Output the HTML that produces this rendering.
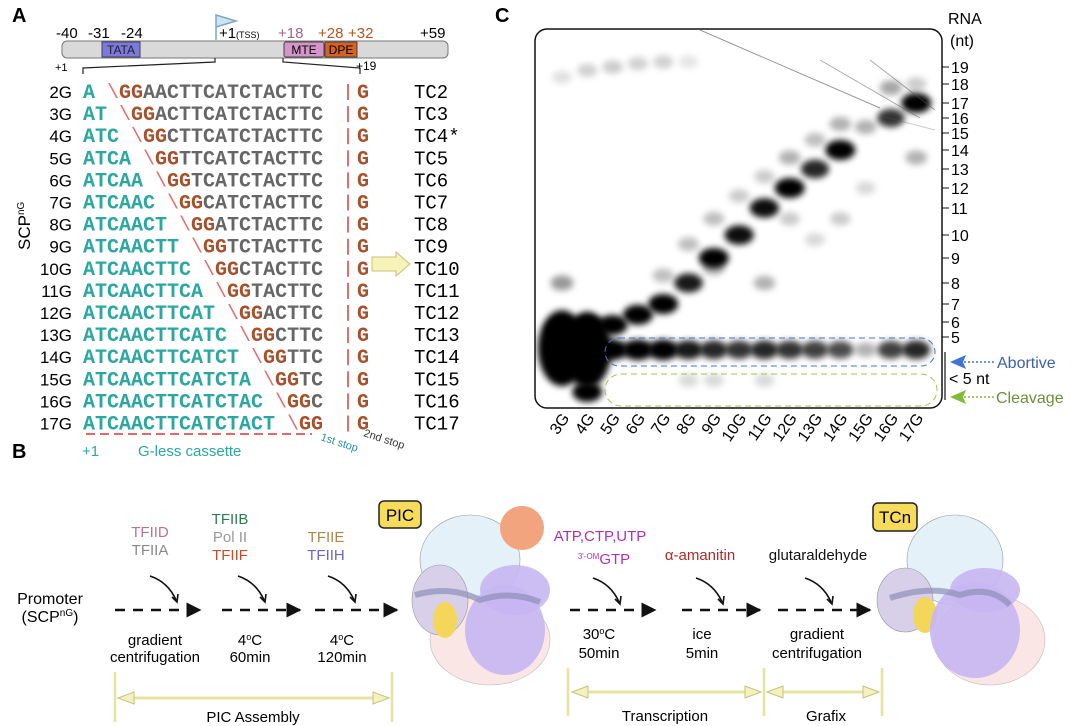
<!DOCTYPE html>
<html><head><meta charset="utf-8">
<style>
body{margin:0;background:#fff;}
svg{display:block;font-family:"Liberation Sans",sans-serif;}
</style></head>
<body>
<svg id="fig" width="1080" height="726" viewBox="0 0 1080 726">
<defs>
<filter id="blur" x="-50%" y="-50%" width="200%" height="200%"><feGaussianBlur stdDeviation="3.2"/></filter>
<marker id="ah" viewBox="0 0 10 10" refX="9" refY="5" markerWidth="6" markerHeight="6" orient="auto"><path d="M0,0 L10,5 L0,10 z" fill="#111"/></marker>
</defs>

<!-- PANEL A -->
<g>
<text x="12" y="22" font-size="20" font-weight="bold">A</text>
<g font-size="15">
<text x="56" y="38">-40</text><text x="88" y="38">-31</text><text x="121" y="38">-24</text>
<text x="219" y="38">+1</text><text x="236" y="38" font-size="9">(TSS)</text>
<text x="278" y="38" fill="#a0628a">+18</text><text x="318" y="38" fill="#b5541f">+28</text><text x="348" y="38" fill="#b5541f">+32</text>
<text x="420" y="38">+59</text>
</g>
<path d="M216,40 L216,15 L236,21 L216,27" fill="#cfe3f2" stroke="#7aa8c8" stroke-width="1.5"/>
<rect x="62" y="41" width="386" height="17" rx="5" fill="#d9d9d9" stroke="#777"/>
<rect x="102" y="42" width="38" height="15" fill="#7b78e0" stroke="#444"/>
<text x="121" y="54" font-size="12" text-anchor="middle" fill="#222">TATA</text>
<rect x="284" y="42" width="40" height="15" rx="2" fill="#d496c8" stroke="#444"/>
<text x="304" y="54" font-size="12" text-anchor="middle">MTE</text>
<rect x="325" y="42" width="32" height="15" fill="#d8621f" stroke="#444"/>
<text x="341" y="54" font-size="12" text-anchor="middle">DPE</text>
<text x="55" y="71" font-size="11">+1</text><text x="356" y="70" font-size="12">+19</text>
<path d="M215,58 L215,62 L83,68 L83,74 M283,58 L283,62 L360,68 L360,74" fill="none" stroke="#222" stroke-width="1.2"/>
<text transform="translate(30,250) rotate(-90)" font-size="17">SCP<tspan font-size="10" dy="-6">nG</tspan></text>
<g id="seqRows"></g>
<path d="M86,434 L312,434" stroke="#e06a6a" stroke-width="2" stroke-dasharray="9,5"/>
<text x="82" y="456" font-size="15" fill="#2aa7a0">+1</text>
<text x="138" y="456" font-size="15" fill="#2aa7a0">G-less cassette</text>
<text transform="translate(320,440) rotate(18)" font-size="11" fill="#2a8f9a">1st stop</text>
<text transform="translate(363,436) rotate(18)" font-size="11" fill="#333">2nd stop</text>
<path d="M372,257 L396,257 L396,252 L410,264 L396,276 L396,271 L372,271 z" fill="#f7f2b8" stroke="#c8c27a"/>
</g>

<!-- PANEL C -->
<g>
<text x="495" y="22" font-size="20" font-weight="bold">C</text>
<text x="948" y="24" font-size="16">RNA</text>
<text x="950" y="46" font-size="16">(nt)</text>
<clipPath id="gelclip"><rect x="535" y="29" width="407" height="379" rx="12"/></clipPath>
<rect x="535" y="29" width="407" height="379" rx="12" fill="#fff"/>
<g id="gelBands" clip-path="url(#gelclip)"></g>
<g clip-path="url(#gelclip)">
<path d="M700,30 L880,108" stroke="#555" stroke-width="1" opacity="0.6"/>
<path d="M820,60 L920,118 M870,60 L935,110" stroke="#555" stroke-width="1" opacity="0.5"/>
<path d="M885,117 L935,130" stroke="#555" stroke-width="1" opacity="0.3"/>
</g>
<rect x="535" y="29" width="407" height="379" rx="12" fill="none" stroke="#111" stroke-width="1.5"/>
<rect x="605" y="338" width="330" height="28" rx="14" fill="none" stroke="#3e74d6" stroke-width="1" stroke-dasharray="6,4"/>
<rect x="605" y="374" width="332" height="32" rx="16" fill="none" stroke="#9fc34a" stroke-width="1" stroke-dasharray="6,4"/>
<g id="yTicks"></g>
<g id="laneLabels"></g>
<path d="M945,352 L945,400" stroke="#111" stroke-width="1.2"/>
<path d="M950,362 L966,355 L963,362 L966,369 z" fill="#3e74d6"/>
<path d="M964,362 L996,362" stroke="#3e74d6" stroke-width="1.5" stroke-dasharray="2,2"/>
<text x="997" y="368" font-size="16" fill="#3a5fb0">Abortive</text>
<text x="949" y="384" font-size="16">&lt; 5 nt</text>
<path d="M950,397 L966,390 L963,397 L966,404 z" fill="#7fba3a"/>
<path d="M964,397 L996,397" stroke="#7fba3a" stroke-width="1.5" stroke-dasharray="2,2"/>
<text x="996" y="403" font-size="16" fill="#6f8e3a">Cleavage</text>
</g>

<!-- PANEL B -->
<g>
<text x="12" y="458" font-size="20" font-weight="bold">B</text>
<text x="50" y="604" font-size="16" text-anchor="middle">Promoter</text>
<text x="50" y="622" font-size="16" text-anchor="middle">(SCP<tspan font-size="10" dy="-6">nG</tspan><tspan dy="6">)</tspan></text>
<g stroke="#111" stroke-width="2.5" stroke-dasharray="10,8" fill="none">
<path d="M115,610 L200,610" marker-end="url(#ah)"/>
<path d="M222,610 L300,610" marker-end="url(#ah)"/>
<path d="M315,610 L397,610" marker-end="url(#ah)"/>
<path d="M570,610 L655,610" marker-end="url(#ah)"/>
<path d="M682,610 L760,610" marker-end="url(#ah)"/>
<path d="M778,610 L870,610" marker-end="url(#ah)"/>
</g>
<g stroke="#111" stroke-width="1.6" fill="none">
<path d="M150,576 Q168,582 176,600"/><path d="M172,597 L177,602 L178,594"/>
<path d="M238,576 Q256,582 264,600"/><path d="M260,597 L265,602 L266,594"/>
<path d="M328,576 Q346,582 354,600"/><path d="M350,597 L355,602 L356,594"/>
<path d="M593,578 Q611,584 619,602"/><path d="M615,599 L620,604 L621,596"/>
<path d="M696,578 Q714,584 722,602"/><path d="M718,599 L723,604 L724,596"/>
<path d="M805,578 Q823,584 831,602"/><path d="M827,599 L832,604 L833,596"/>
</g>
<g font-size="15" text-anchor="middle">
<text x="150" y="537" fill="#c07090">TFIID</text><text x="150" y="555" fill="#888">TFIIA</text>
<text x="230" y="524" fill="#2f7a4f">TFIIB</text><text x="230" y="542" fill="#999">Pol II</text><text x="230" y="560" fill="#c2502a">TFIIF</text>
<text x="326" y="542" fill="#a78a4a">TFIIE</text><text x="326" y="560" fill="#6a66c8">TFIIH</text>
<text x="600" y="541" fill="#b02fb8">ATP,CTP,UTP</text>
<text x="604" y="564" fill="#b02fb8"><tspan font-size="8" dy="-5">3'-OM</tspan><tspan dy="5">GTP</tspan></text>
<text x="700" y="560" fill="#b02a2a">α-amanitin</text>
<text x="818" y="560" fill="#111">glutaraldehyde</text>
<text x="155" y="645">gradient</text><text x="155" y="662">centrifugation</text>
<text x="250" y="645">4<tspan font-size="9" dy="-5">o</tspan><tspan dy="5">C</tspan></text><text x="250" y="662">60min</text>
<text x="342" y="645">4<tspan font-size="9" dy="-5">o</tspan><tspan dy="5">C</tspan></text><text x="342" y="662">120min</text>
<text x="599" y="639">30<tspan font-size="9" dy="-5">o</tspan><tspan dy="5">C</tspan></text><text x="599" y="658">50min</text>
<text x="702" y="639">ice</text><text x="702" y="658">5min</text>
<text x="817" y="639">gradient</text><text x="817" y="658">centrifugation</text>
<text x="253" y="722">PIC Assembly</text>
<text x="665" y="721">Transcription</text>
<text x="826" y="721">Grafix</text>
</g>
<g stroke="#e8e2a0" stroke-width="2.5" fill="none">
<path d="M115,672 L115,722 M392,672 L392,722 M568,668 L568,716 M764,668 L764,716 M882,668 L882,716"/>
<path d="M122,698 L385,698 M575,692 L758,692 M770,692 L876,692" stroke-width="3"/>
</g>
<g fill="#f5f0c0" stroke="#c8c27a" stroke-width="1">
<path d="M118,698 L134,692 L134,704 z"/><path d="M389,698 L373,692 L373,704 z"/>
<path d="M572,692 L588,686 L588,698 z"/><path d="M761,692 L745,686 L745,698 z"/>
<path d="M767,692 L783,686 L783,698 z"/><path d="M879,692 L863,686 L863,698 z"/>
</g>
<rect x="379" y="501" width="42" height="27" rx="5" fill="#f6dc5a" stroke="#222" stroke-width="1.5"/>
<text x="400" y="521" font-size="17" text-anchor="middle">PIC</text>
<rect x="873" y="503" width="44" height="28" rx="5" fill="#f6dc5a" stroke="#222" stroke-width="1.5"/>
<text x="895" y="523" font-size="17" text-anchor="middle">TCn</text>
<g>
<ellipse cx="470" cy="560" rx="50" ry="45" fill="#e4f1f8" stroke="#999" stroke-width="0.6"/>
<ellipse cx="522" cy="528" rx="22" ry="22" fill="#f2a47e"/>
<ellipse cx="490" cy="640" rx="60" ry="45" fill="#fbe6e6" stroke="#bbb" stroke-width="0.6"/>
<ellipse cx="440" cy="600" rx="28" ry="35" fill="#d8cfe8" stroke="#999" stroke-width="0.6"/>
<ellipse cx="445" cy="620" rx="12" ry="18" fill="#f4d65a"/>
<ellipse cx="505" cy="630" rx="40" ry="45" fill="#c7b6f2" opacity="0.9"/>
<ellipse cx="515" cy="590" rx="35" ry="25" fill="#c7b6f2" opacity="0.9"/>
<path d="M415,595 Q450,585 480,600 Q510,590 540,602" stroke="#8f8fb8" stroke-width="6" fill="none" opacity="0.7"/>
</g>
<g>
<ellipse cx="955" cy="560" rx="48" ry="45" fill="#e4f1f8" stroke="#999" stroke-width="0.6"/>
<ellipse cx="990" cy="640" rx="55" ry="45" fill="#fbe6e6" stroke="#bbb" stroke-width="0.6"/>
<ellipse cx="905" cy="600" rx="28" ry="32" fill="#d8cfe8" stroke="#999" stroke-width="0.6"/>
<ellipse cx="925" cy="615" rx="12" ry="18" fill="#f4d65a"/>
<ellipse cx="975" cy="630" rx="45" ry="48" fill="#c7b6f2" opacity="0.9"/>
<ellipse cx="985" cy="590" rx="35" ry="22" fill="#c7b6f2" opacity="0.9"/>
<path d="M890,598 Q930,585 960,595 Q990,585 1010,605" stroke="#8f8fb8" stroke-width="6" fill="none" opacity="0.7"/>
</g>
</g>
</svg>
<script>
// ===== Panel A sequence data =====
const seqRowLabels = ["2G","3G","4G","5G","6G","7G","8G","9G","10G","11G","12G","13G","14G","15G","16G","17G"];
const tcLabels = ["TC2","TC3","TC4*","TC5","TC6","TC7","TC8","TC9","TC10","TC11","TC12","TC13","TC14","TC15","TC16","TC17"];
const fullSeq = "ATCAACTTCATCTACTTC";

// ===== Panel C gel data =====
const laneLabels = ["3G","4G","5G","6G","7G","8G","9G","10G","11G","12G","13G","14G","15G","16G","17G"];
const tickLabels = ["19","18","17","16","15","14","13","12","11","10","9","8","7","6","5"];
// band lane index, band length (nt), band intensity
const bandLane = [0,0,0, 1,1,1, 2,2, 3,3, 4,4,4, 5,5,5, 6,6,6,6, 7,7,7, 8,8,8,8, 9,9,9,9, 10,10,10,10, 11,11,11,11, 12,12,12, 13,13,13, 14,14,14, 0,1,2,3,4,5, 5,6,8, 14];
const bandNt   = [4.3,8,5.5, 5.6,4.2,3, 5.8,4.2, 6.4,4.2, 7,4.2,8.3, 8,4.2,9.6, 9,4.2,10.6,8.6, 10,4.2,11.6, 11,4.2,8,12.6, 12,4.2,13.6,10.6, 13,4.2,14.6,9.8, 14,4.2,15.6,10.6, 15.4,4.2,12, 16,4.2,17.8, 17,4.2,13.6, 18.4,18.8,19,19.2,19.3,19.3, 3.3,3.3,3.3, 18];
const bandInt  = [1.6,0.4,1.0, 1.0,1.3,1.0, 1.0,1.1, 1.0,1.1, 1.0,1.1,0.25, 0.9,0.9,0.25, 1.0,0.85,0.25,0.3, 0.95,0.8,0.2, 0.95,0.85,0.3,0.2, 1.0,0.8,0.3,0.2, 0.85,0.75,0.25,0.15, 1.0,0.7,0.3,0.2, 0.3,0.3,0.15, 0.8,0.75,0.35, 1.0,0.85,0.3, 0.12,0.18,0.2,0.18,0.18,0.1, 0.15,0.15,0.15, 0.2];

const NS="http://www.w3.org/2000/svg";
function mk(tag, attrs, parent){const e=document.createElementNS(NS,tag);for(const k in attrs)e.setAttribute(k,attrs[k]);parent.appendChild(e);return e;}

// ---- Panel A render ----
const seqG=document.getElementById('seqRows');
const rowY0=98, rowStep=22.1, seqX=83;
seqRowLabels.forEach((lab,i)=>{
  const n=i+2, y=rowY0+i*rowStep;
  const t=mk('text',{x:72,y:y,'font-size':17,'text-anchor':'end'},seqG);
  
  
  t.textContent=lab;
  const s=mk('text',{x:seqX,y:y,'font-size':20,'font-family':'"Liberation Mono",monospace','font-weight':'bold'},seqG);
  
  
  const p=mk('tspan',{fill:'#2aa7a0'},s); p.textContent=fullSeq.slice(0,n-1);
  const sl=mk('tspan',{fill:'#e07070','font-weight':'normal'},s); sl.textContent=" \\";
  const gg=mk('tspan',{fill:'#a8502a'},s); gg.textContent="GG";
  const r=mk('tspan',{fill:'#666'},s); r.textContent=fullSeq.slice(n+1);
  mk('line',{x1:348,y1:y-14,x2:348,y2:y+2,stroke:'#e07070','stroke-width':2},seqG);
  const g=mk('text',{x:357,y:y,'font-size':20,'font-family':'"Liberation Mono",monospace','font-weight':'bold',fill:'#a8502a'},seqG);
  g.textContent="G";
  const tc=mk('text',{x:414,y:y,'font-size':19,'font-family':'"Liberation Mono",monospace'},seqG);
  
  
  tc.textContent=tcLabels[i];
});

// ---- Panel C scales ----
const laneX0=562, laneStep=25.3;
function xLane(i){return laneX0+i*laneStep;}
// calibration of the nt axis (gel migration, non-linear)
const calNt=[19,18,17,16,15,14,13,12,11,10,9,8,7,6,5,4,3];
const calY =[67,84,103,118,133,150,169,188,208,235,258,283,304,322,337,353,392];
function yNt(nt){
  if(nt>=calNt[0]) return calY[0]-(nt-calNt[0])*17;
  for(let k=0;k<calNt.length-1;k++){
    if(nt<=calNt[k]&&nt>=calNt[k+1]){const f=(calNt[k]-nt)/(calNt[k]-calNt[k+1]);return calY[k]+f*(calY[k+1]-calY[k]);}
  }
  return calY[calY.length-1]+(calNt[calNt.length-1]-nt)*30;
}
const bandsG=document.getElementById('gelBands');
bandLane.forEach((li,k)=>{
  const v=bandInt[k];
  const rx=Math.min(9+v*6,22), ry=Math.min(6+v*4,20);
  const e=mk('ellipse',{cx:xLane(li),cy:yNt(bandNt[k]),rx:v>1.2?24:rx,ry:v>1.2?38:ry,fill:'#000','fill-opacity':Math.min(v,1),filter:'url(#blur)'},bandsG);
  
  
});
const yt=document.getElementById('yTicks');
tickLabels.forEach(l=>{
  const y=yNt(parseFloat(l));
  mk('line',{x1:942,y1:y,x2:949,y2:y,stroke:'#111','stroke-width':1},yt);
  const t=mk('text',{x:951,y:y+6,'font-size':16},yt);
  
  
  t.textContent=l;
});
const ll=document.getElementById('laneLabels');
laneLabels.forEach((l,i)=>{
  const t=mk('text',{transform:`translate(${xLane(i)+8},418) rotate(-55)`,'font-size':16,'text-anchor':'end'},ll);
  
  
  t.textContent=l;
});
</script>
</body></html>
